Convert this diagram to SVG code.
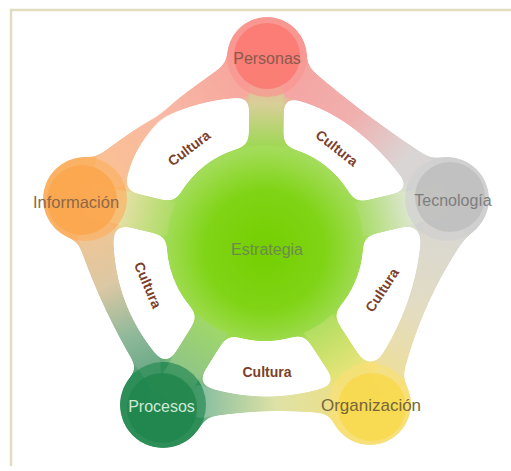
<svg xmlns="http://www.w3.org/2000/svg" width="511" height="471" viewBox="0 0 511 471">
  <defs>
    <style>
      .lbl { font-family: "Liberation Sans", Arial, sans-serif; text-anchor: middle; }
      .node-lbl { font-size: 16px; }
      .cultura { font-family: "Liberation Sans", Arial, sans-serif; font-weight: bold; font-size: 14px; fill: #7b3f2c; text-anchor: middle; }
      .spoke { stroke-width: 34; stroke-linecap: butt; }
    </style>
    <!-- blur + alpha threshold: fuses ribbons, spokes, hub and nodes with smooth fillets -->
    <filter id="goo" filterUnits="userSpaceOnUse" x="0" y="0" width="511" height="471" color-interpolation-filters="sRGB">
      <feGaussianBlur in="SourceGraphic" stdDeviation="7" result="b"/>
      <feColorMatrix in="b" type="matrix" values="1 0 0 0 0  0 1 0 0 0  0 0 1 0 0  0 0 0 24 -11" result="g"/>
      <feComposite in="SourceGraphic" in2="g" operator="atop"/>
    </filter>
    <radialGradient id="hubFill" gradientUnits="userSpaceOnUse" cx="265" cy="250" r="100">
      <stop offset="0" stop-color="#74cf00"/>
      <stop offset="0.6" stop-color="#80d416"/>
      <stop offset="1" stop-color="#a2dc58"/>
    </radialGradient>
    <!-- outer ribbons -->
    <linearGradient id="bPT" gradientUnits="userSpaceOnUse" x1="267" y1="58" x2="447" y2="199">
      <stop offset="0" stop-color="#f6a09c"/>
      <stop offset="0.45" stop-color="#f0b0ae"/>
      <stop offset="0.75" stop-color="#dad5d5"/>
      <stop offset="1" stop-color="#d4d4d4"/>
    </linearGradient>
    <linearGradient id="bTO" gradientUnits="userSpaceOnUse" x1="447" y1="199" x2="370" y2="404">
      <stop offset="0" stop-color="#d6d6d6"/>
      <stop offset="0.5" stop-color="#e2dcc4"/>
      <stop offset="1" stop-color="#f2e08a"/>
    </linearGradient>
    <linearGradient id="bOR" gradientUnits="userSpaceOnUse" x1="370" y1="404" x2="163" y2="406">
      <stop offset="0" stop-color="#f2de78"/>
      <stop offset="0.45" stop-color="#dfe2a6"/>
      <stop offset="0.8" stop-color="#8cc0a0"/>
      <stop offset="1" stop-color="#4a9c72"/>
    </linearGradient>
    <linearGradient id="bRI" gradientUnits="userSpaceOnUse" x1="163" y1="406" x2="85" y2="199">
      <stop offset="0" stop-color="#4a9c72"/>
      <stop offset="0.35" stop-color="#8fb99a"/>
      <stop offset="0.6" stop-color="#dcc8a4"/>
      <stop offset="1" stop-color="#fbc48c"/>
    </linearGradient>
    <linearGradient id="bIP" gradientUnits="userSpaceOnUse" x1="85" y1="199" x2="267" y2="58">
      <stop offset="0" stop-color="#fbc48c"/>
      <stop offset="0.5" stop-color="#f8b8a4"/>
      <stop offset="1" stop-color="#f6a09c"/>
    </linearGradient>
    <!-- spokes -->
    <linearGradient id="sP" gradientUnits="userSpaceOnUse" x1="265" y1="242" x2="267" y2="58">
      <stop offset="0" stop-color="#84d42a"/>
      <stop offset="0.5" stop-color="#9ad850"/>
      <stop offset="0.75" stop-color="#d8cf98"/>
      <stop offset="1" stop-color="#f0a8a0"/>
    </linearGradient>
    <linearGradient id="sT" gradientUnits="userSpaceOnUse" x1="265" y1="242" x2="447" y2="199">
      <stop offset="0" stop-color="#84d42a"/>
      <stop offset="0.5" stop-color="#a5dc60"/>
      <stop offset="0.8" stop-color="#dfe6d2"/>
      <stop offset="1" stop-color="#d8d8d8"/>
    </linearGradient>
    <linearGradient id="sO" gradientUnits="userSpaceOnUse" x1="265" y1="242" x2="370" y2="404">
      <stop offset="0" stop-color="#84d42a"/>
      <stop offset="0.5" stop-color="#b0de60"/>
      <stop offset="0.8" stop-color="#e6e478"/>
      <stop offset="1" stop-color="#f4dc60"/>
    </linearGradient>
    <linearGradient id="sR" gradientUnits="userSpaceOnUse" x1="265" y1="242" x2="163" y2="406">
      <stop offset="0" stop-color="#84d42a"/>
      <stop offset="0.5" stop-color="#a0d868"/>
      <stop offset="0.8" stop-color="#90c488"/>
      <stop offset="1" stop-color="#3a9464"/>
    </linearGradient>
    <linearGradient id="sI" gradientUnits="userSpaceOnUse" x1="265" y1="242" x2="85" y2="199">
      <stop offset="0" stop-color="#84d42a"/>
      <stop offset="0.5" stop-color="#a8dc60"/>
      <stop offset="0.8" stop-color="#e6e0a8"/>
      <stop offset="1" stop-color="#fbc48c"/>
    </linearGradient>
  </defs>

  <rect width="511" height="471" fill="#ffffff"/>
  <!-- frame -->
  <path d="M11 466 V10 H511" fill="none" stroke="#e2dcc2" stroke-width="2.5"/>

  <!-- fused body: node bases, ribbons, spokes, hub -->
  <g id="web" filter="url(#goo)">
    <g id="node-bases">
      <circle cx="267" cy="57" r="40" fill="#f99c96"/>
      <circle cx="447" cy="199" r="42" fill="#d0d0d0"/>
      <circle cx="370" cy="404" r="41" fill="#f8e07c"/>
      <circle cx="163" cy="405" r="43" fill="#2f8f5a"/>
      <circle cx="85" cy="199" r="42" fill="#fbb468"/>
    </g>
    <g id="connectors">
      <!-- ribbons between neighbouring nodes (outer edge, then inner edge along the tab) -->
      <path d="M267 57 L304 64 Q364.4 116.8 432 160 L447 199 L410 188 Q355 110 285 97 Z" fill="url(#bPT)"/>
      <path d="M447 199 L466 236 Q421 301 402 378 L370 404 L378 362 Q420 298 422 226 Z" fill="url(#bTO)"/>
      <path d="M370 404 L335 414 Q266 406 200 418 L163 405 L198 385 Q266 409 335 385 Z" fill="url(#bOR)"/>
      <path d="M163 405 L138 369 Q100.7 307.9 78 240 L85 199 L113 226 Q110 303 160 360 Z" fill="url(#bRI)"/>
      <path d="M85 199 L97 157 L229 62 L267 57 L247 97 Q140 100 125 185 Z" fill="url(#bIP)"/>
      <!-- spokes from the hub to every node -->
      <line class="spoke" x1="265" y1="242" x2="267" y2="57" stroke="url(#sP)"/>
      <line class="spoke" x1="265" y1="242" x2="447" y2="199" stroke="url(#sT)"/>
      <line class="spoke" x1="265" y1="242" x2="370" y2="404" stroke="url(#sO)"/>
      <line class="spoke" x1="265" y1="242" x2="163" y2="405" stroke="url(#sR)"/>
      <line class="spoke" x1="265" y1="242" x2="85" y2="199" stroke="url(#sI)"/>
    </g>
    <circle id="hub-disc" cx="265" cy="243" r="98" fill="url(#hubFill)"/>
  </g>

  <g id="estrategia">
    <text class="lbl node-lbl" x="267" y="255" fill="#6c8c4c">Estrategia</text>
  </g>

  <g id="personas">
    <circle cx="267" cy="57" r="40" fill="#f99690" opacity="0.7"/>
    <circle cx="267" cy="56" r="33" fill="#fb7870" opacity="0.85"/>
    <text class="lbl node-lbl" x="267" y="64" fill="#8a5a50">Personas</text>
  </g>
  <g id="tecnologia">
    <circle cx="447" cy="199" r="42" fill="#d0d0d0" opacity="0.7"/>
    <circle cx="450" cy="197" r="35" fill="#bebebe" opacity="0.85"/>
    <text class="lbl node-lbl" x="453" y="206" fill="#7e7e7e">Tecnología</text>
  </g>
  <g id="organizacion">
    <circle cx="370" cy="404" r="41" fill="#f8df78" opacity="0.7"/>
    <circle cx="372" cy="407" r="34" fill="#f8d84c" opacity="0.85"/>
    <text class="lbl" x="371" y="411" font-size="17" fill="#76663a">Organización</text>
  </g>
  <g id="procesos">
    <circle cx="163" cy="405" r="43" fill="#2e8e58" opacity="0.75"/>
    <circle cx="162" cy="408" r="35" fill="#21864c" opacity="0.85"/>
    <text class="lbl node-lbl" x="161.5" y="412" fill="#cfe9d6">Procesos</text>
  </g>
  <g id="informacion">
    <circle cx="85" cy="199" r="42" fill="#fbb064" opacity="0.7"/>
    <circle cx="82" cy="200" r="35" fill="#fba64c" opacity="0.85"/>
    <text class="lbl" x="76" y="208" font-size="16.5" fill="#8c6848">Información</text>
  </g>

  <g id="cultura-labels">
    <text class="cultura" transform="translate(189 148) rotate(-37)" y="5">Cultura</text>
    <text class="cultura" transform="translate(337 148) rotate(38)" y="5">Cultura</text>
    <text class="cultura" transform="translate(382 290) rotate(-57)" y="5">Cultura</text>
    <text class="cultura" transform="translate(267 372) rotate(0)" y="5">Cultura</text>
    <text class="cultura" transform="translate(148 285) rotate(67)" y="5">Cultura</text>
  </g>
</svg>
